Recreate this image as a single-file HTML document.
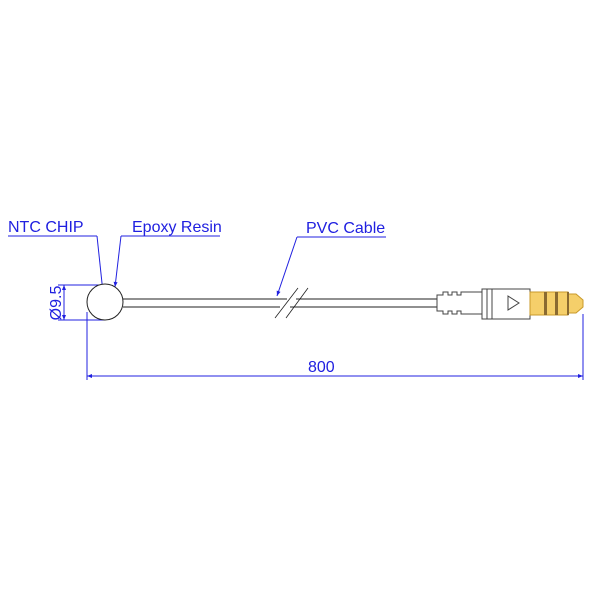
<!DOCTYPE html>
<html><head><style>body{margin:0;background:#fff}svg{display:block}</style></head><body>
<svg width="600" height="600" viewBox="0 0 600 600" xmlns="http://www.w3.org/2000/svg" font-family="Liberation Sans, sans-serif">
<defs><marker id="a" viewBox="0 0 10 10" refX="10" refY="5" markerWidth="10" markerHeight="5" orient="auto-start-reverse" markerUnits="userSpaceOnUse"><path d="M0,1 L10,5 L0,9 z" fill="#2020e0"/></marker></defs>
<g stroke="#2020e0" stroke-width="1" fill="none">
<line x1="8" y1="236" x2="97" y2="236"/><line x1="97" y1="236" x2="104" y2="302" marker-end="url(#a)"/>
<line x1="121" y1="236" x2="220" y2="236"/><line x1="121" y1="236" x2="115" y2="287" marker-end="url(#a)"/>
<line x1="297" y1="237" x2="386" y2="237"/><line x1="297" y1="237" x2="277" y2="296" marker-end="url(#a)"/>
<line x1="58" y1="285" x2="105" y2="285"/><line x1="58" y1="320" x2="105" y2="320"/>
<line x1="64" y1="285" x2="64" y2="320" marker-start="url(#a)" marker-end="url(#a)"/>
<line x1="87" y1="312" x2="87" y2="380"/><line x1="583" y1="314" x2="583" y2="380"/>
<line x1="87" y1="376" x2="583" y2="376" marker-start="url(#a)" marker-end="url(#a)"/>
</g>
<g fill="#2020e0" font-size="16">
<text x="8" y="232">NTC CHIP</text><text x="132" y="232">Epoxy Resin</text><text x="306" y="233">PVC Cable</text>
<text x="308" y="372">800</text>
<text transform="translate(61,303) rotate(-90)" text-anchor="middle">Ø9.5</text>
</g>
<g stroke="#222" stroke-width="1" fill="none">
<circle cx="105" cy="302" r="18" fill="#fff"/>
<line x1="123" y1="299" x2="287" y2="299"/><line x1="123" y1="307" x2="280" y2="307"/>
<line x1="296" y1="299" x2="437" y2="299"/><line x1="290" y1="307" x2="437" y2="307"/>
<line x1="275" y1="318" x2="298" y2="288" stroke-width="0.8"/><line x1="286" y1="318" x2="308" y2="288" stroke-width="0.8"/>
</g>
<g stroke="#444" stroke-width="1" fill="#fff">
<path d="M437,295 H443 V292 H448 V295 H452 V292 H457 V295 H461 V292 H482 V314 H461 V311 H457 V314 H452 V311 H448 V314 H443 V311 H437 Z"/>
<rect x="482" y="289" width="5" height="30"/><rect x="487" y="289" width="5" height="30"/>
<rect x="492" y="289" width="38" height="30"/>
<path d="M508,296 L519,303 L508,310 Z" fill="none"/>
<rect x="530" y="292" width="38" height="23" fill="#f5cf6a" stroke="#c99a2a"/>
<path d="M568,294 H576 L583,300 V307 L576,313 H568 Z" fill="#f5cf6a" stroke="#c99a2a"/>
<rect x="544" y="292" width="3" height="23" fill="#8a6a30" stroke="none"/>
<rect x="555" y="292" width="3" height="23" fill="#8a6a30" stroke="none"/>
<rect x="567" y="292" width="2" height="23" fill="#8a6a30" stroke="none"/>
</g>
</svg>
</body></html>
